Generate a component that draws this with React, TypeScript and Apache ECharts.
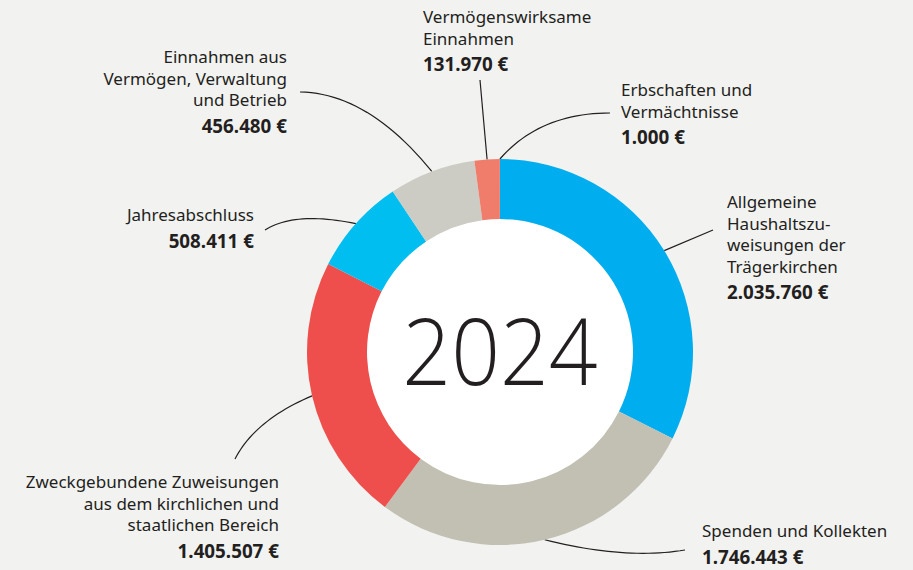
import React, { useEffect, useRef } from "react";
import * as echarts from "echarts";

const categories: string[] = [
  "Allgemeine\nHaushaltszu-\nweisungen der\nTrägerkirchen",
  "Spenden und Kollekten",
  "Zweckgebundene Zuweisungen\naus dem kirchlichen und\nstaatlichen Bereich",
  "Jahresabschluss",
  "Einnahmen aus\nVermögen, Verwaltung\nund Betrieb",
  "Vermögenswirksame\nEinnahmen",
  "Erbschaften und\nVermächtnisse",
];
const values: number[] = [2035760, 1746443, 1405507, 508411, 456480, 131970, 1000];
const colors: string[] = ["#00AEEF", "#C2C0B3", "#EF4F4C", "#00BEF0", "#CDCCC4", "#F07C6C", "#E8604F"];
const centerTitle = "2024";

// label placement (anchor x, top y, alignment) and leader-line bend/end points
const labelPlaces: { x: number; y: number; align: string; bend: number[] | null; end: number[] }[] = [
  { x: 727, y: 191, align: "left", bend: null, end: [713, 230] },
  { x: 702, y: 520, align: "left", bend: [625, 560], end: [685, 550] },
  { x: 279, y: 471, align: "right", bend: [255, 420], end: [235, 459] },
  { x: 254, y: 204, align: "right", bend: [295, 211], end: [265, 230] },
  { x: 287, y: 46, align: "right", bend: [368, 93], end: [300, 92] },
  { x: 423, y: 6, align: "left", bend: null, end: [480, 80] },
  { x: 621, y: 79, align: "left", bend: [540, 113], end: [610, 113] },
];

const fmt = (v: number) => String(v).replace(/\B(?=(\d{3})+(?!\d))/g, ".") + " €";

function curvePoints(p0: number[], c: number[] | null, p2: number[]): number[][] {
  if (!c) return [p0, p2];
  const out: number[][] = [];
  const n = 24;
  for (let i = 0; i <= n; i++) {
    const t = i / n;
    const a = (1 - t) * (1 - t);
    const b = 2 * (1 - t) * t;
    const d = t * t;
    out.push([a * p0[0] + b * c[0] + d * p2[0], a * p0[1] + b * c[1] + d * p2[1]]);
  }
  return out;
}

export default function App() {
  const ref = useRef<HTMLDivElement>(null);
  useEffect(() => {
    document.body.style.margin = "0";
    const chart = echarts.init(ref.current!, null, { renderer: "svg" });
    const font = "'Noto Sans', sans-serif";
    chart.setOption({
      animation: false,
      backgroundColor: "#F2F2F0",
      graphic: [
        {
          type: "text",
          x: 500,
          y: 349,
          scaleX: 0.93,
          z: 100,
          style: {
            text: centerTitle,
            fontFamily: "'Open Sans', sans-serif",
            fontWeight: 300,
            fontSize: 92,
            fill: "#231F20",
            align: "center",
            verticalAlign: "middle",
          },
        },
      ],
      series: [
        {
          type: "pie",
          center: [500, 352],
          radius: [0, 133],
          silent: true,
          label: { show: false },
          labelLine: { show: false },
          data: [{ value: 1, name: "", itemStyle: { color: "#FFFFFF" } }],
        },
        {
          type: "pie",
          center: [500, 352],
          radius: [133, 193],
          startAngle: 90,
          clockwise: true,
          avoidLabelOverlap: false,
          silent: true,
          data: values.map((v, i) => ({
            value: v,
            name: categories[i],
            itemStyle: { color: colors[i] },
          })),
          label: {
            show: true,
            position: "outside",
            formatter: (p: any) => `{n|${categories[p.dataIndex]}}\n{v|${fmt(values[p.dataIndex])}}`,
            rich: {
              n: { fontFamily: font, fontSize: 17, lineHeight: 21.5, color: "#231F20" },
              v: { fontFamily: font, fontSize: 18.8, fontWeight: "bold", lineHeight: 30, color: "#231F20" },
            },
          },
          labelLine: {
            show: true,
            smooth: 0,
            length: 10,
            length2: 10,
            lineStyle: { color: "#231F20", width: 1.2 },
          },
          labelLayout: (params: any) => {
            const pl = labelPlaces[params.dataIndex];
            const start = params.labelLinePoints ? params.labelLinePoints[0] : pl.end;
            return {
              x: pl.x,
              y: pl.y,
              align: pl.align,
              verticalAlign: "top",
              labelLinePoints: curvePoints(start, pl.bend, pl.end),
            };
          },
        },
      ],
    });
    return () => chart.dispose();
  }, []);
  return <div ref={ref} style={{ width: 913, height: 570 }} />;
}
